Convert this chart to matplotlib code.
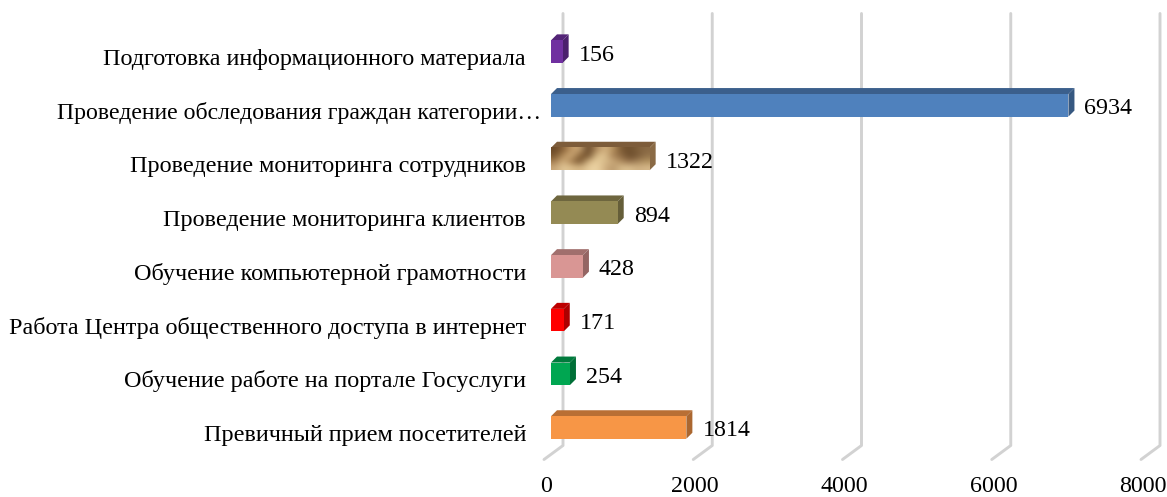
import matplotlib
matplotlib.use('Agg')
import matplotlib.pyplot as plt
from matplotlib.colors import to_rgb
from matplotlib.patches import Polygon, Rectangle

categories = ['Превичный прием посетителей', 'Обучение работе на портале Госуслуги',
              'Работа Центра общественного доступа в интернет', 'Обучение компьютерной грамотности',
              'Проведение мониторинга клиентов', 'Проведение мониторинга сотрудников',
              'Проведение обследования граждан категории…', 'Подготовка информационного материала']
values = [1814, 254, 171, 428, 894, 1322, 6934, 156]
front = ['#f79646', '#00a651', '#ff0000', '#d99694', '#948a54', '#d8b98a', '#4f81bd', '#7030a0']
top = ['#b96f34', '#007a3c', '#bd0000', '#a16f6d', '#6e663e', '#7d5c3a', '#3b5f8c', '#532477']
side = ['#ab6730', '#006f37', '#ad0000', '#946563', '#655e39', '#8a6a45', '#365881', '#4b206d']
ticks = [0, 2000, 4000, 6000, 8000]

# sand texture of the "сотрудников" bar
sand = [['#6b4a28', '#8a6238', '#c49c68', '#c9a676', '#5f4022', '#b08a5c', '#d6b584', '#b8935f', '#7d5a34', '#6e4f2d', '#80603a', '#8a6a45'],
        ['#7a5730', '#b58f5c', '#d2ae7c', '#8a6438', '#6b4a28', '#d8bb88', '#e2c694', '#a98357', '#8f6c45', '#6a4b2a', '#7a5a38', '#94744c'],
        ['#a27c4e', '#d6b482', '#a88050', '#6f4e2a', '#cfae7c', '#ead09e', '#d8bb8a', '#c9a878', '#b08c5e', '#94704a', '#a5845a', '#b2925f'],
        ['#c8a678', '#e2c898', '#dcbe8c', '#d2b280', '#e6cc9c', '#eed6a6', '#d4b484', '#b8966a', '#d8bc8c', '#dcc090', '#cfb082', '#d6b88a']]

W, H = 1167, 497
plt.rcParams['font.family'] = 'Liberation Serif'
fig = plt.figure(figsize=(W / 100, H / 100), dpi=100)

# front plane: 0 at x=551, 8000 at x=1148; first bar at y=427.5, spacing 53.7
ax = fig.add_axes([551 / W, 0, 597 / W, 1])
ax.axis('off')

sx = 8000 / 597
sy = 1 / 53.7
dep = 6
bar_h = 22.5 * sy
ddx, ddy = dep * sx, dep * sy

# walls
for t in ticks:
    xs = [t - 7 * sx, t + 12 * sx, t + 12 * sx]
    ys = [-32 * sy, -18 * sy, 414 * sy]
    ax.plot(xs, ys, color='#d2d2d2', lw=2.1, solid_joinstyle='round', solid_capstyle='round', clip_on=False, zorder=1)
    ax.text(t - 5 * sx, -59 * sy, str(t), ha='center', va='center', fontsize=17.3, color='black')

for i, (cat, val) in enumerate(zip(categories, values)):
    y0, y1 = i - bar_h / 2, i + bar_h / 2
    ax.add_patch(Polygon([(0, y1), (ddx, y1 + ddy), (val + ddx, y1 + ddy), (val, y1)], fc=top[i], ec='none', zorder=3))
    ax.add_patch(Polygon([(val, y0), (val + ddx, y0 + ddy), (val + ddx, y1 + ddy), (val, y1)], fc=side[i], ec='none', zorder=3))
    if i == 5:
        rgb = [[to_rgb(c) for c in row] for row in sand]
        ax.imshow(rgb, extent=(0, val, y0, y1), origin='upper', aspect='auto', interpolation='bicubic', zorder=4)
    else:
        ax.add_patch(Rectangle((0, y0), val, y1 - y0, fc=front[i], ec='none', zorder=4))
    ax.text(val + 16 * sx, i - 3.5 * sy, str(val), ha='left', va='center', fontsize=17.3, color='black', zorder=6)
    # the cut label sticks out past the others
    cut = cat.endswith('…')
    ax.text(-(10 if cut else 25) * sx, i - 7.5 * sy, cat, ha='right', va='center',
            fontsize=17.1 if cut else 17.35, color='black')

ax.set_xlim(0, 8000)
ax.set_ylim((427.5 - H) / 53.7, 427.5 / 53.7)

fig.savefig('out.png', dpi=100)
